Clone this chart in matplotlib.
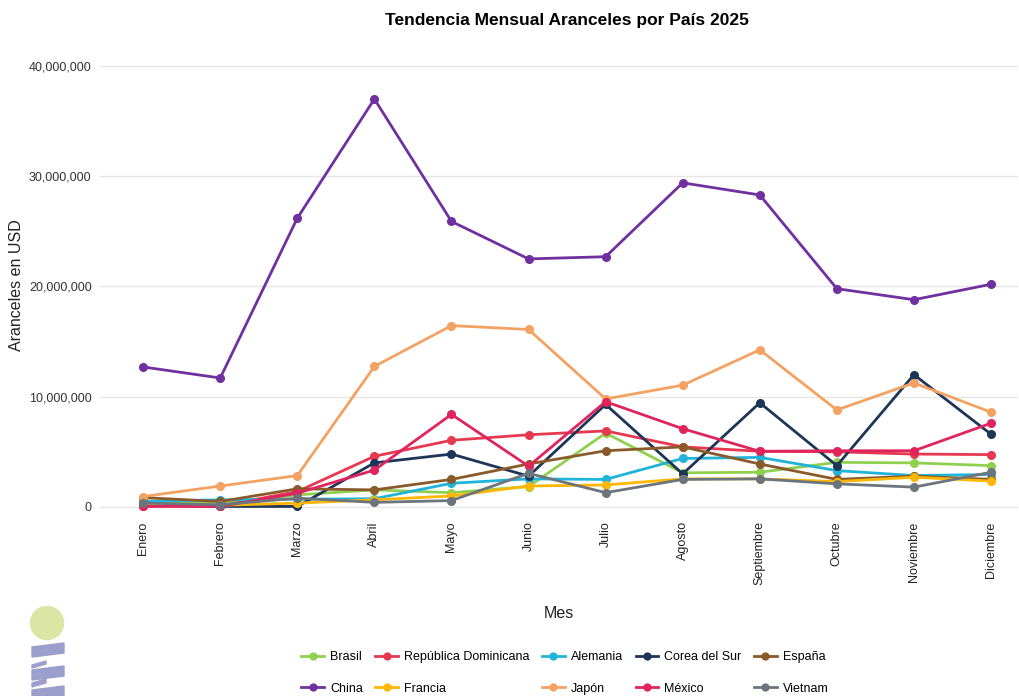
import matplotlib
matplotlib.use("Agg")
import matplotlib.pyplot as plt
from matplotlib.patches import Circle, Polygon
from matplotlib.ticker import FuncFormatter

plt.rcParams['font.family'] = ['Liberation Sans', 'DejaVu Sans']

meses = ["Enero", "Febrero", "Marzo", "Abril", "Mayo", "Junio", "Julio",
         "Agosto", "Septiembre", "Octubre", "Noviembre", "Diciembre"]

# valores en millones de USD
brasil = [0.5, 0.3, 1.1, 1.55, 1.3, 1.85, 6.7, 3.1, 3.15, 4.05, 4.0, 3.75]
rep_dominicana = [0.1, 0.1, 1.4, 4.6, 6.05, 6.55, 6.9, 5.45, 5.05, 5.0, 4.8, 4.75]
alemania = [0.5, 0.65, 0.7, 0.75, 2.15, 2.55, 2.5, 4.4, 4.5, 3.3, 2.85, 2.95]
corea = [0.2, 0.05, 0.05, 4.0, 4.8, 2.8, 9.3, 3.0, 9.45, 3.75, 12.0, 6.6]
espana = [0.85, 0.5, 1.65, 1.55, 2.5, 3.9, 5.1, 5.45, 3.9, 2.5, 2.8, 2.5]
china = [12.7, 11.7, 26.2, 37.0, 25.9, 22.5, 22.7, 29.4, 28.3, 19.8, 18.8, 20.2]
francia = [0.3, 0.15, 0.35, 0.65, 1.0, 1.9, 2.0, 2.55, 2.55, 2.3, 2.7, 2.35]
japon = [0.95, 1.9, 2.85, 12.75, 16.45, 16.1, 9.8, 11.05, 14.25, 8.8, 11.25, 8.6]
mexico = [0.05, 0.05, 1.25, 3.35, 8.4, 3.7, 9.55, 7.1, 5.05, 5.1, 5.1, 7.6]
vietnam = [0.35, 0.2, 0.8, 0.42, 0.58, 3.05, 1.3, 2.5, 2.55, 2.1, 1.8, 3.15]

series = [
    ("Brasil", brasil, "#8fd14f"),
    ("República Dominicana", rep_dominicana, "#e63950"),
    ("Alemania", alemania, "#1fb4d8"),
    ("Corea del Sur", corea, "#1d3557"),
    ("España", espana, "#8b5a2b"),
    ("China", china, "#7030a0"),
    ("Francia", francia, "#ffb703"),
    ("Japón", japon, "#f4a261"),
    ("México", mexico, "#e0245e"),
    ("Vietnam", vietnam, "#6c757d"),
]

fig = plt.figure(figsize=(10.2, 6.96), dpi=100)
ax = fig.add_axes([100 / 1020, 0.2589, 918 / 1020, 0.659])

x = list(range(len(meses)))
lines = {}
for name, vals, col in series:
    ln, = ax.plot(x, [v * 1e6 for v in vals], color=col, lw=2.0,
                  marker="o", ms=5.5, label=name)
    lines[name] = ln

ax.set_xlim(-0.56, 11.35)
ax.set_ylim(-0.8e6, 40.8e6)
ax.set_yticks([0, 10e6, 20e6, 30e6, 40e6])
ax.yaxis.set_major_formatter(FuncFormatter(lambda v, p: f"{int(v):,}"))
ax.set_xticks(x)
ax.set_xticklabels(meses, rotation=90)
ax.tick_params(axis="y", length=0, labelsize=9, colors="#333333", pad=6)
ax.tick_params(axis="x", length=0, labelsize=9, colors="#222222", pad=4)
ax.grid(axis="y", color="#e6e6e6", lw=1)
for s in ax.spines.values():
    s.set_visible(False)

ax.set_xlabel("Mes", fontsize=11.5, color="#222222", labelpad=15)
fig.text(17 / 1020, 1 - 285 / 696, "Aranceles en USD", rotation=90,
         ha="center", va="center", fontsize=11.5, color="#222222")
fig.text(567 / 1020, 1 - 21 / 696, "Tendencia Mensual Aranceles por País 2025",
         ha="center", va="center", fontsize=12.5, fontweight="bold")

# leyenda: 2 filas x 5 columnas
orden = ["Brasil", "China", "República Dominicana", "Francia", "Alemania",
         "Japón", "Corea del Sur", "México", "España", "Vietnam"]
fig.legend([lines[n] for n in orden], orden, ncol=5, frameon=False,
           loc="center", bbox_to_anchor=(565 / 1020, 1 - 673 / 696),
           fontsize=9, labelspacing=1.55, handlelength=1.8,
           columnspacing=1.0, handletextpad=0.5, markerscale=0.9)

# logo
logo_c = "#9c9ecb"
fig.patches.append(Circle((47, 696 - 623), 16.5, transform=None,
                          color="#dbe6a4", zorder=5))
barras = [(643, 657, 64), (661, 668, 46), (666, 680, 64), (679, 687, 46), (686, 700, 64)]
for y0, y1, x1 in barras:
    sl = 4
    pts = [(32, 696 - y1), (x1, 696 - y1 + sl), (x1, 696 - y0), (32, 696 - y0 - sl)]
    fig.patches.append(Polygon(pts, closed=True, transform=None,
                               color=logo_c, zorder=5))

fig.savefig("out.png", dpi=100)
